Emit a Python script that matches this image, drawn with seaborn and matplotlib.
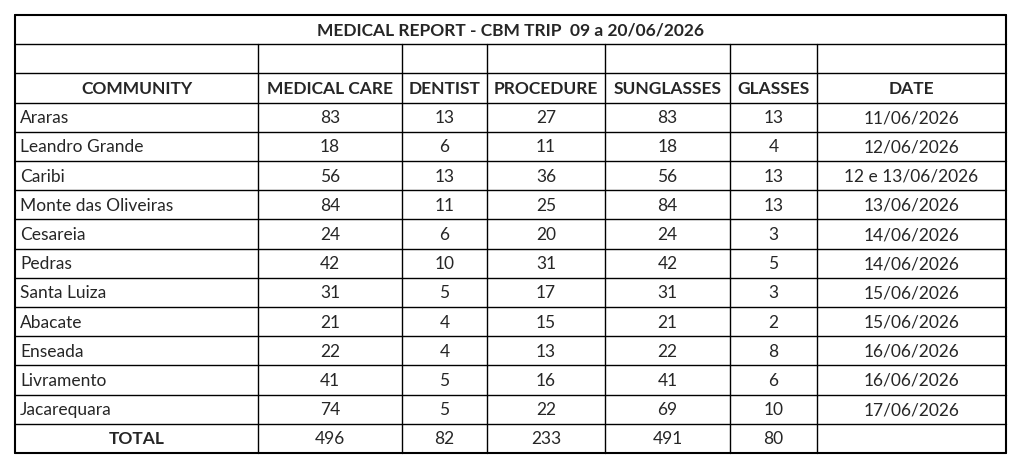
import matplotlib
matplotlib.use("Agg")
import matplotlib.pyplot as plt
import seaborn as sns

sns.set_theme(style="white")
plt.rcParams['font.family'] = ['Lato', 'DejaVu Sans']

title = "MEDICAL REPORT - CBM TRIP  09 a 20/06/2026"
headers = ["COMMUNITY", "MEDICAL CARE", "DENTIST", "PROCEDURE", "SUNGLASSES", "GLASSES", "DATE"]
communities = ["Araras", "Leandro Grande", "Caribi", "Monte das Oliveiras", "Cesareia", "Pedras",
               "Santa Luiza", "Abacate", "Enseada", "Livramento", "Jacarequara"]
medical_care = [83, 18, 56, 84, 24, 42, 31, 21, 22, 41, 74]
dentist = [13, 6, 13, 11, 6, 10, 5, 4, 4, 5, 5]
procedure = [27, 11, 36, 25, 20, 31, 17, 15, 13, 16, 22]
sunglasses = [83, 18, 56, 84, 24, 42, 31, 21, 22, 41, 69]
glasses = [13, 4, 13, 13, 3, 5, 3, 2, 8, 6, 10]
dates = ["11/06/2026", "12/06/2026", "12 e 13/06/2026", "13/06/2026", "14/06/2026", "14/06/2026",
         "15/06/2026", "15/06/2026", "16/06/2026", "16/06/2026", "17/06/2026"]
total_label = "TOTAL"
totals = [496, 82, 233, 491, 80]

W, H = 1010, 474
fig = plt.figure(figsize=(W / 100, H / 100), dpi=100)
ax = fig.add_axes([0, 0, 1, 1])
ax.set_xlim(0, W)
ax.set_ylim(H, 0)
ax.axis("off")

cols = [15, 258, 402, 487, 605, 730, 817, 1006]
top = 15
row_h = 29.2
nrows = 3 + len(communities) + 1
rows = [top + i * row_h for i in range(nrows + 1)]
lw = 1.0
k = "black"

# horizontal lines
for i, y in enumerate(rows):
    ax.plot([cols[0], cols[-1]], [y, y], color=k, lw=1.5 if i in (0, nrows) else lw)
# vertical lines
for j, x in enumerate(cols):
    if j in (0, len(cols) - 1):
        ax.plot([x, x], [rows[0], rows[-1]], color=k, lw=1.5)
    else:
        ax.plot([x, x], [rows[1], rows[-1]], color=k, lw=lw)

fs = 12.5
def cx(j):
    return (cols[j] + cols[j + 1]) / 2
def cy(i):
    return (rows[i] + rows[i + 1]) / 2 + 1

ax.text((cols[0] + cols[-1]) / 2, cy(0), title, ha="center", va="center", fontsize=fs, fontweight="bold")
for j, h in enumerate(headers):
    ax.text(cx(j), cy(2), h, ha="center", va="center", fontsize=fs, fontweight="bold")

series = [medical_care, dentist, procedure, sunglasses, glasses]
for r, name in enumerate(communities):
    i = 3 + r
    ax.text(cols[0] + 5, cy(i), name, ha="left", va="center", fontsize=fs)
    for j, s in enumerate(series):
        ax.text(cx(j + 1), cy(i), str(s[r]), ha="center", va="center", fontsize=fs)
    ax.text(cx(6), cy(i), dates[r], ha="center", va="center", fontsize=fs)

i = nrows - 1
ax.text(cx(0), cy(i), total_label, ha="center", va="center", fontsize=fs, fontweight="bold")
for j, t in enumerate(totals):
    ax.text(cx(j + 1), cy(i), str(t), ha="center", va="center", fontsize=fs)

fig.savefig("out.png", dpi=100, facecolor="white")
